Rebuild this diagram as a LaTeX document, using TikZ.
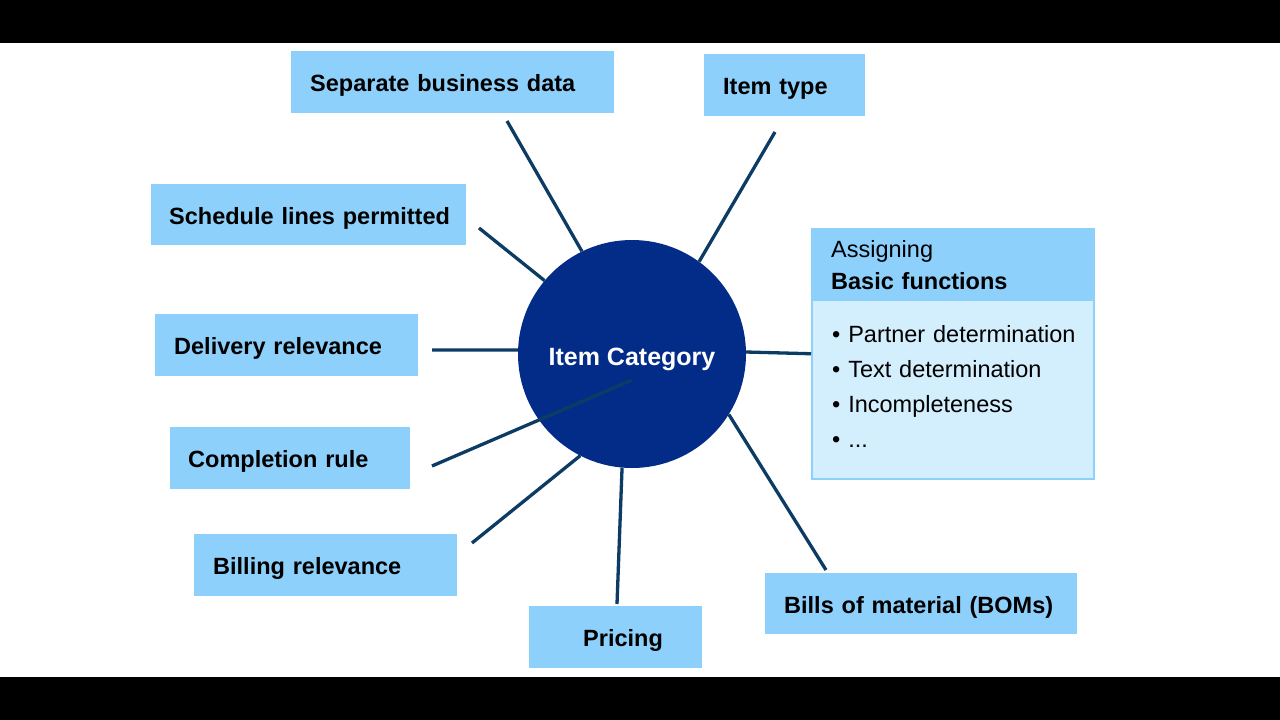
\documentclass[tikz,border=0pt]{standalone}
\usepackage{fontspec}
\setmainfont{Liberation Sans}
\hyphenpenalty=10000
\exhyphenpenalty=10000
\definecolor{boxblue}{HTML}{8DD0FB}
\definecolor{bodyblue}{HTML}{D3EEFC}
\definecolor{circblue}{HTML}{022C88}
\definecolor{linecol}{HTML}{0C3B64}
\begin{document}
\begin{tikzpicture}[x=1pt,y=-1pt,
  box/.style={fill=boxblue, anchor=north west, inner xsep=0pt, inner ysep=0pt,
    text height=22.6pt, text depth=4pt,
    align=left, font=\fontsize{23.5}{28}\selectfont\bfseries, text=black},
  conn/.style={draw=linecol, line width=3.3pt},
]
\useasboundingbox (0,0) rectangle (1280,720);
\fill[white] (0,0) rectangle (1280,720);
\fill[black] (0,0) rectangle (1280,43);
\fill[black] (0,677) rectangle (1280,720);

% boxes
\node[box, text width=323pt, minimum height=62pt] (sep) at (291,51) {\hspace*{19pt}Separate business data};
\node[box, text width=161pt, minimum height=62pt] (ity) at (704,54) {\hspace*{19pt}Item type};
\node[box, text width=315pt, minimum height=61pt] (sch) at (151,184) {\hspace*{18pt}Schedule lines permitted};
\node[box, text width=263pt, minimum height=62pt] (del) at (155,314) {\hspace*{19pt}Delivery relevance};
\node[box, text width=240pt, minimum height=62pt] (com) at (170,427) {\hspace*{18pt}Completion rule};
\node[box, text width=263pt, minimum height=62pt] (bil) at (194,534) {\hspace*{19pt}Billing relevance};
\node[box, text width=173pt, minimum height=62pt] (pri) at (529,606) {\hspace*{54pt}Pricing};
\node[box, text width=312pt, minimum height=61pt] (bom) at (765,573) {\hspace*{19pt}Bills of material (BOMs)};

% basic functions box
\node[draw=boxblue, fill=bodyblue, line width=1.5pt, anchor=north west, inner sep=0pt,
  minimum width=282pt, minimum height=250pt] (basic) at (811,228) {};
\node[fill=boxblue, anchor=north west, inner sep=0pt, minimum width=282pt, minimum height=73pt] (hdr) at (811,228) {};
\node[anchor=west, inner xsep=20pt, inner ysep=0pt, text width=250pt, align=left,
  font=\fontsize{23.5}{32}\selectfont] (hdrtext) at (811,265) {Assigning\\\textbf{Basic functions}};
\node[anchor=west, inner xsep=21pt, inner ysep=0pt, text width=262pt, align=left,
  font=\fontsize{23.5}{35}\selectfont] (list) at (811,386)
  {• Partner determination\\• Text determination\\• Incompleteness\\• ...};

% circle
\node[circle, fill=circblue, minimum size=228pt, inner sep=0pt, text=white,
  text height=22pt, text depth=0pt,
  font=\fontsize{25}{30}\selectfont\bfseries] (ic) at (632,354) {Item Category};

% connector end points
\coordinate (sepE) at (507,121);
\coordinate (ityE) at (775,132);
\coordinate (schE) at (479,228);
\coordinate (delE) at (432,350);
\coordinate (comE) at (432,466);
\coordinate (comI) at (632,380);
\coordinate (bilE) at (472,543);
\coordinate (priE) at (617,604);
\coordinate (bomE) at (826,570);

\draw[conn] (sepE) -- (ic.116.6);
\draw[conn] (ityE) -- (ic.54.1);
\draw[conn] (schE) -- (ic.140.3);
\draw[conn] (delE) -- (ic.178.5);
\draw[conn] (comE) -- (comI);
\draw[conn] (bilE) -- (ic.243.7);
\draw[conn] (priE) -- (ic.265);
\draw[conn] (bomE) -- (ic.328.9);
\draw[conn] (ic.1) -- (basic.west);
\end{tikzpicture}
\end{document}
